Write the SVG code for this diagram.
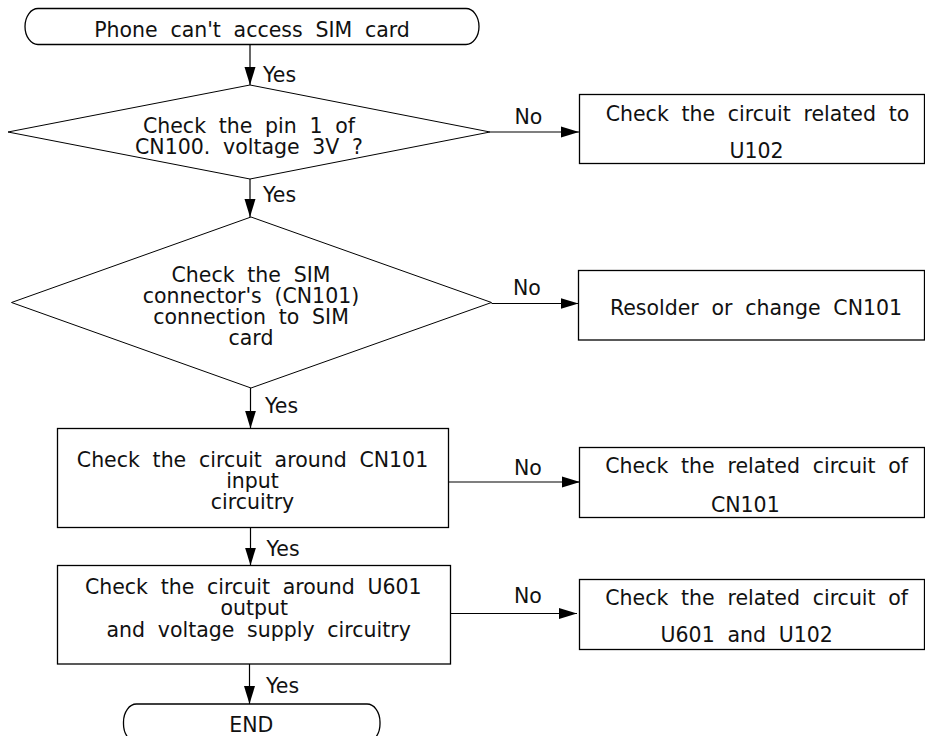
<svg xmlns="http://www.w3.org/2000/svg" width="925" height="736" viewBox="0 0 925 736">
<defs>
<marker id="arr" markerUnits="userSpaceOnUse" markerWidth="18" markerHeight="12" refX="18" refY="6" orient="auto">
<path d="M0,0.5 L18,6 L0,11.5 z" fill="#000"/>
</marker>
<style>
text{font-family:"DejaVu Sans",Verdana,sans-serif;font-size:20.5px;fill:#111;word-spacing:6.2px}
.c{text-anchor:middle}
.box{fill:#fff;stroke:#000;stroke-width:1.3}
.dia{fill:#fff;stroke:#000;stroke-width:1}
.ln{fill:none;stroke:#000;stroke-width:1.2;marker-end:url(#arr)}
</style>
</defs>
<rect width="925" height="736" fill="#fff"/>
<g id="connectors">
<line class="ln" x1="250" y1="44.5" x2="250" y2="85"/>
<line class="ln" x1="250" y1="179" x2="250" y2="217"/>
<line class="ln" x1="250.5" y1="388" x2="250.5" y2="428.5"/>
<line class="ln" x1="250.5" y1="527.5" x2="250.5" y2="565.5"/>
<line class="ln" x1="249.5" y1="664" x2="249.5" y2="704"/>
<line class="ln" x1="490" y1="132" x2="579" y2="132"/>
<line class="ln" x1="491.5" y1="303.5" x2="578.5" y2="303.5"/>
<line class="ln" x1="448.5" y1="482" x2="580" y2="482"/>
<line class="ln" x1="450.5" y1="613.5" x2="577" y2="613.5"/>
<text x="263" y="82">Yes</text>
<text x="263" y="202">Yes</text>
<text x="265" y="413">Yes</text>
<text x="266.5" y="555.5">Yes</text>
<text x="266" y="693">Yes</text>
<text x="514.5" y="124">No</text>
<text x="513" y="295">No</text>
<text x="514" y="475">No</text>
<text x="514" y="603">No</text>
</g>
<g id="start">
<rect class="box" x="25" y="8.5" width="454" height="36" rx="13" ry="18"/>
<text class="c" x="252" y="37">Phone can't access SIM card</text>
</g>
<g id="decision1">
<polygon class="dia" points="250,85 490,132 250,179 8,132"/>
<text class="c" x="249" y="133">Check the pin 1 of</text>
<text class="c" x="249" y="153.5">CN100. voltage 3V ?</text>
</g>
<g id="box-u102">
<rect class="box" x="579.5" y="94.5" width="345" height="69"/>
<text class="c" x="757.5" y="120.5">Check the circuit related to</text>
<text class="c" x="756.5" y="158">U102</text>
</g>
<g id="decision2">
<polygon class="dia" points="251,217 491.5,302.5 251,388 11.5,302.5"/>
<text class="c" x="251" y="281.5">Check the SIM</text>
<text class="c" x="251" y="302.5">connector's (CN101)</text>
<text class="c" x="251" y="323.5">connection to SIM</text>
<text class="c" x="251" y="344.5">card</text>
</g>
<g id="box-resolder">
<rect class="box" x="578.5" y="270.5" width="346" height="69.5"/>
<text class="c" x="756" y="315">Resolder or change CN101</text>
</g>
<g id="box-cn101-input">
<rect class="box" x="57.5" y="428.5" width="391" height="99"/>
<text class="c" x="252.5" y="466.5">Check the circuit around CN101</text>
<text class="c" x="252.5" y="487.5">input</text>
<text class="c" x="252.5" y="508.5">circuitry</text>
</g>
<g id="box-cn101-related">
<rect class="box" x="579.5" y="447.5" width="345" height="70"/>
<text class="c" x="756.7" y="473.3">Check the related circuit of</text>
<text class="c" x="745.3" y="511.5">CN101</text>
</g>
<g id="box-u601-output">
<rect class="box" x="57.5" y="565.5" width="393" height="98.5"/>
<text class="c" x="253.3" y="593.5">Check the circuit around U601</text>
<text class="c" x="254.2" y="614.5">output</text>
<text class="c" x="258.7" y="636.5">and voltage supply circuitry</text>
</g>
<g id="box-u601-related">
<rect class="box" x="579.5" y="579.5" width="345" height="70"/>
<text class="c" x="756.7" y="605">Check the related circuit of</text>
<text class="c" x="746.7" y="641.5">U601 and U102</text>
</g>
<g id="end">
<rect class="box" x="123.5" y="704" width="256.5" height="38" rx="13" ry="18"/>
<text class="c" x="251.3" y="732">END</text>
</g>
</svg>
